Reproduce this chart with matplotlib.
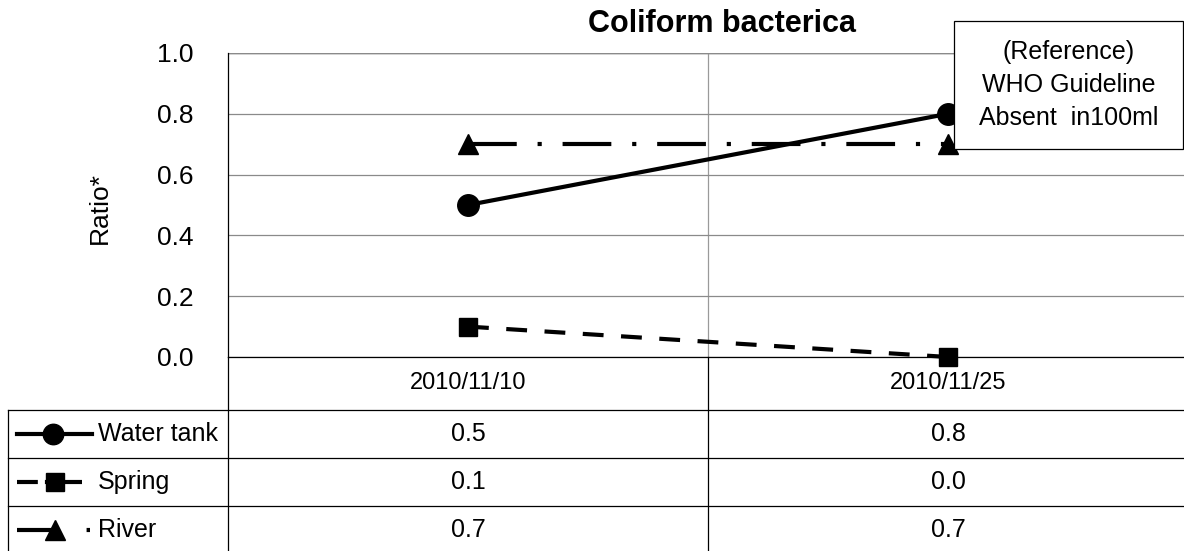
import matplotlib
matplotlib.use("Agg")
import matplotlib.pyplot as plt
from matplotlib.lines import Line2D
from matplotlib.patches import Rectangle
from matplotlib.transforms import blended_transform_factory

# data
dates = ["2010/11/10", "2010/11/25"]
series_names = ["Water tank", "Spring", "River"]
water_tank = [0.5, 0.8]
spring = [0.1, 0.0]
river = [0.7, 0.7]
y_ticks = [0.0, 0.2, 0.4, 0.6, 0.8, 1.0]
title = "Coliform bacterica"
y_label = "Ratio*"
note_lines = ["(Reference)", "WHO Guideline", "Absent  in100ml"]

plt.rcParams["font.family"] = ["Liberation Sans Narrow", "Liberation Sans", "DejaVu Sans"]

W, H = 1184, 551
fig = plt.figure(figsize=(W / 100, H / 100), dpi=100)

# plot area in pixels: x 228..1188, y 53..357
ax = fig.add_axes([228 / W, 1 - 357 / H, 960 / W, 304 / H])
lw = 3.0
x = list(range(len(dates)))
styles = [
    dict(marker="o", ms=15.5, ls="-"),
    dict(marker="s", ms=13.5, ls=(0, (5, 4.2))),
    dict(marker="^", ms=15, ls=(0, (11.7, 5, 1, 5))),
]
for vals, st in zip([water_tank, spring, river], styles):
    ax.plot(x, vals, color="black", lw=lw, ls=st["ls"], marker=st["marker"],
            ms=st["ms"], mfc="black", mec="black", clip_on=False, zorder=5)

ax.set_xlim(-0.5, len(dates) - 0.5)
ax.set_ylim(0, 1.0)
ax.set_yticks(y_ticks)
ax.set_yticklabels([f"{v:.1f}" for v in y_ticks])
ax.set_xticks(x)
ax.set_xticklabels(dates)
ax.set_xticks([0.5], minor=True)
ax.tick_params(axis="y", length=0, pad=25, labelsize=19)
ax.tick_params(axis="x", which="both", length=0, pad=11, labelsize=17)
ax.grid(axis="y", color="#8a8a8a", lw=0.9)
ax.grid(axis="x", which="minor", color="#9a9a9a", lw=0.9)
ax.grid(axis="x", which="major", visible=False)
for s in ["top", "right"]:
    ax.spines[s].set_visible(False)
ax.spines["left"].set_color("black")
ax.spines["left"].set_linewidth(0.9)
ax.spines["bottom"].set_color("black")
ax.spines["bottom"].set_linewidth(0.9)
ax.axhline(1.0, color="#555555", lw=1.0, zorder=1)

fig.text(100 / W, 1 - 208 / H, y_label, rotation=90, ha="center", va="center", fontsize=19)
fig.text(722 / W, 1 - 24 / H, title, ha="center", va="center", fontsize=22, fontweight="bold")

# overlay in pixel coordinates for the data table and the note box
ov = fig.add_axes([0, 0, 1, 1])
ov.set_xlim(0, W)
ov.set_ylim(H, 0)
ov.axis("off")
ov.patch.set_alpha(0)

row_tops = [410, 458, 506]
row_h = 48
for yt in row_tops:
    ov.plot([8, W], [yt, yt], color="black", lw=0.9)
ov.plot([8, 8], [410, H], color="black", lw=0.9)
ov.plot([228, 228], [357, H], color="black", lw=0.9)
ov.plot([708, 708], [357, H], color="black", lw=0.9)

tr = blended_transform_factory(ax.transData, ov.transData)
# legend keys as drawn in the table's first column
key_ls = ["-", (0, (5, 1.7, 9, 10)), (0, (9.5, 7.2, 1, 7.5))]
key_span = [(17, 92), (17, 82), (17, 90)]
key_mx = [53, 55, 55]
for i, (name, vals, st) in enumerate(zip(series_names, [water_tank, spring, river], styles)):
    yc = row_tops[i] + row_h / 2
    x0, x1 = key_span[i]
    ov.add_line(Line2D([x0, x1], [yc, yc], color="black", lw=lw, ls=key_ls[i]))
    ov.plot([key_mx[i]], [yc], marker=st["marker"], ms=st["ms"] * 0.95, color="black", ls="none")
    ov.text(98, yc, name, ha="left", va="center", fontsize=18)
    for xi, v in zip(x, vals):
        ov.text(xi, yc, f"{v:.1f}", transform=tr, ha="center", va="center", fontsize=18)

# reference note box (covers the line ends)
ov.add_patch(Rectangle((954, 21), 229, 128, facecolor="white", edgecolor="black", lw=0.9, zorder=10))
for j, line in enumerate(note_lines):
    ov.text(1069, 52 + j * 33, line, ha="center", va="center", fontsize=18, zorder=11)

fig.savefig("out.png", dpi=100)
